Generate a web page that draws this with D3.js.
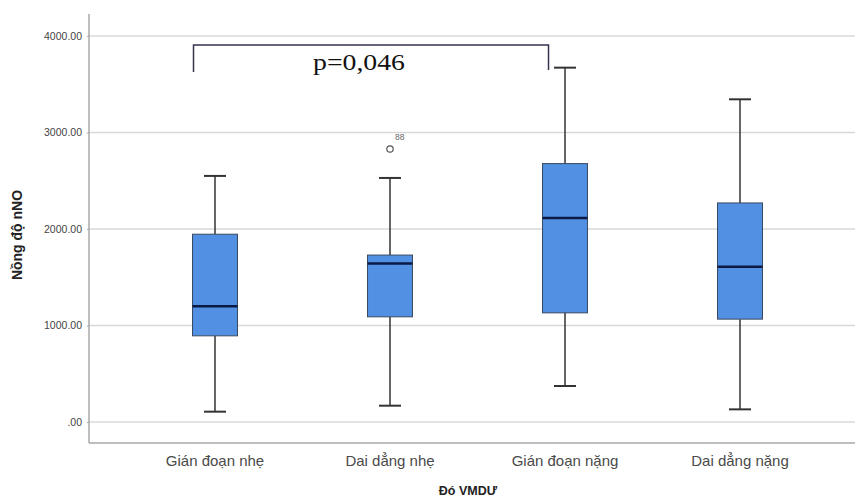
<!DOCTYPE html>
<html>
<head>
<meta charset="utf-8">
<script src="https://cdn.jsdelivr.net/npm/d3@7"></script>
<style>
  html, body { margin: 0; padding: 0; background: #ffffff; }
  svg { display: block; }
</style>
</head>
<body>
<svg id="chart" width="855" height="498"></svg>
<script>
// Nồng độ nNO theo độ VMDƯ — boxplot summary per group
const categories = ["Gián đoạn nhẹ", "Dai dẳng nhẹ", "Gián đoạn nặng", "Dai dẳng nặng"];
const whiskerLow = [107, 169, 373, 131];
const q1 = [893, 1090, 1131, 1066];
const median = [1200, 1643, 2115, 1608];
const q3 = [1946, 1730, 2678, 2270];
const whiskerHigh = [2550, 2529, 3672, 3344];
const outliers = [{ group: "Dai dẳng nhẹ", value: 2829, label: "88" }];
const yTicks = [0, 1000, 2000, 3000, 4000];
const yTickLabels = [".00", "1000.00", "2000.00", "3000.00", "4000.00"];
const comparison = { from: "Gián đoạn nhẹ", to: "Gián đoạn nặng", text: "p=0,046" };

const W = 855, H = 498;
const plot = { left: 89, right: 855, top: 14, bottom: 443 };

const svg = d3.select("#chart");

const y = d3.scaleLinear().domain([0, 4000]).range([422, 36]);
const x = d3.scaleBand().domain(categories).range([127.5, 827.5]);
const cx = d => x(d) + x.bandwidth() / 2;
const boxW = x.bandwidth() * 0.257;
const capW = 22;

// gridlines
svg.append("g").selectAll("line").data(yTicks).join("line")
  .attr("x1", plot.left).attr("x2", plot.right)
  .attr("y1", d => y(d)).attr("y2", d => y(d))
  .attr("stroke", "#d8d8d8").attr("stroke-width", 1.5);

// y axis
const yAxis = d3.axisLeft(y).tickValues(yTicks)
  .tickFormat((d, i) => yTickLabels[i]).tickSize(2).tickPadding(5);
const gy = svg.append("g").attr("transform", `translate(${plot.left},0)`).call(yAxis);
gy.select(".domain").remove();
gy.selectAll(".tick line").attr("stroke", "#aaa");
gy.selectAll(".tick text").attr("font-family", "Liberation Sans, Arial, sans-serif")
  .attr("font-size", 10.5).attr("fill", "#444");

// axis frame lines
svg.append("line").attr("x1", plot.left).attr("x2", plot.left)
  .attr("y1", plot.top).attr("y2", plot.bottom)
  .attr("stroke", "#a8a8a8").attr("stroke-width", 1.5);
svg.append("line").attr("x1", plot.left).attr("x2", plot.right)
  .attr("y1", plot.bottom).attr("y2", plot.bottom)
  .attr("stroke", "#a8a8a8").attr("stroke-width", 1.5);

// x axis labels
const xAxis = d3.axisBottom(x).tickSize(0).tickPadding(12);
const gx = svg.append("g").attr("transform", `translate(0,${plot.bottom})`).call(xAxis);
gx.select(".domain").remove();
gx.selectAll(".tick text").attr("font-family", "Liberation Sans, Arial, sans-serif")
  .attr("font-size", 15).attr("fill", "#4a4a4a");

// axis titles
svg.append("text").attr("x", 468).attr("y", 495).attr("text-anchor", "middle")
  .attr("font-family", "Liberation Sans, Arial, sans-serif").attr("font-weight", "bold")
  .attr("font-size", 12.5).attr("fill", "#222").text("Đó VMDƯ");
svg.append("text").attr("transform", "translate(22,235) rotate(-90)").attr("text-anchor", "middle")
  .attr("font-family", "Liberation Sans, Arial, sans-serif").attr("font-weight", "bold")
  .attr("font-size", 14).attr("fill", "#222").text("Nồng độ nNO");

// boxes
const groups = categories.map((c, i) => ({
  c, lo: whiskerLow[i], q1: q1[i], med: median[i], q3: q3[i], hi: whiskerHigh[i]
}));
const g = svg.append("g").selectAll("g").data(groups).join("g");

g.append("line").attr("x1", d => cx(d.c)).attr("x2", d => cx(d.c))
  .attr("y1", d => y(d.hi)).attr("y2", d => y(d.q3))
  .attr("stroke", "#333").attr("stroke-width", 1.5);
g.append("line").attr("x1", d => cx(d.c)).attr("x2", d => cx(d.c))
  .attr("y1", d => y(d.q1)).attr("y2", d => y(d.lo))
  .attr("stroke", "#333").attr("stroke-width", 1.5);
g.append("line").attr("x1", d => cx(d.c) - capW / 2).attr("x2", d => cx(d.c) + capW / 2)
  .attr("y1", d => y(d.hi)).attr("y2", d => y(d.hi))
  .attr("stroke", "#333").attr("stroke-width", 2);
g.append("line").attr("x1", d => cx(d.c) - capW / 2).attr("x2", d => cx(d.c) + capW / 2)
  .attr("y1", d => y(d.lo)).attr("y2", d => y(d.lo))
  .attr("stroke", "#333").attr("stroke-width", 2);
g.append("rect").attr("x", d => cx(d.c) - boxW / 2).attr("width", boxW)
  .attr("y", d => y(d.q3)).attr("height", d => y(d.q1) - y(d.q3))
  .attr("fill", "#5190e2").attr("stroke", "#3a4a60").attr("stroke-width", 1);
g.append("line").attr("x1", d => cx(d.c) - boxW / 2).attr("x2", d => cx(d.c) + boxW / 2)
  .attr("y1", d => y(d.med)).attr("y2", d => y(d.med))
  .attr("stroke", "#0b1a45").attr("stroke-width", 2.5);

// outliers
svg.append("g").selectAll("circle").data(outliers).join("circle")
  .attr("cx", d => cx(d.group)).attr("cy", d => y(d.value)).attr("r", 3.2)
  .attr("fill", "#fff").attr("stroke", "#555").attr("stroke-width", 1.2);
svg.append("g").selectAll("text").data(outliers).join("text")
  .attr("x", d => cx(d.group) + 5).attr("y", d => y(d.value) - 9)
  .attr("font-family", "Liberation Sans, Arial, sans-serif").attr("font-size", 8.5)
  .attr("fill", "#666").text(d => d.label);

// significance bracket
const bx1 = cx(comparison.from) - boxW / 2 + 1, bx2 = cx(comparison.to) - boxW / 2 + 6;
svg.append("path")
  .attr("d", `M${bx1},72 V45 H${bx2} V70`)
  .attr("fill", "none").attr("stroke", "#33334d").attr("stroke-width", 1.5);
svg.append("text").attr("x", (bx1 + bx2) / 2 - 12).attr("y", 70).attr("text-anchor", "middle")
  .attr("font-family", "Liberation Serif, Times New Roman, serif").attr("font-size", 23)
  .attr("textLength", 92).attr("lengthAdjust", "spacingAndGlyphs")
  .attr("fill", "#111").text(comparison.text);
</script>
</body>
</html>
